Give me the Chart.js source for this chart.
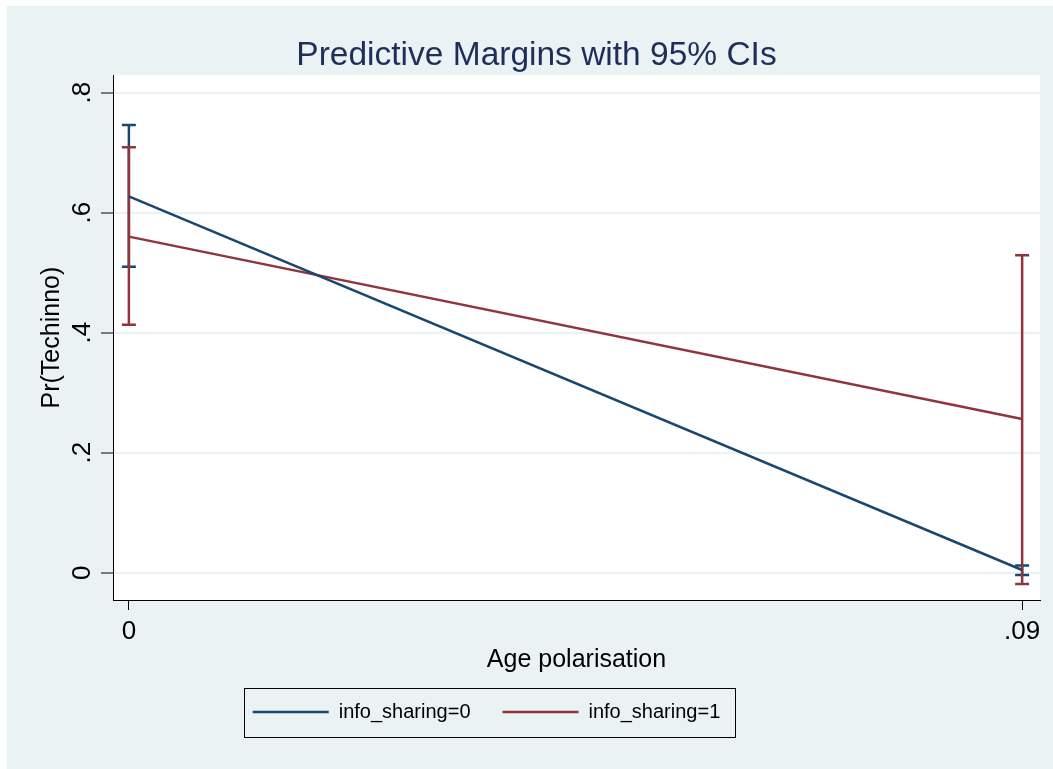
<!DOCTYPE html>
<html>
<head>
<meta charset="utf-8">
<title>Predictive Margins with 95% CIs</title>
<script src="https://cdn.jsdelivr.net/npm/chart.js@4.4.1/dist/chart.umd.min.js"></script>
<style>
  html, body { margin: 0; padding: 0; background: #ffffff; }
  #wrap { width: 1053px; height: 769px; position: relative; }
</style>
</head>
<body>
<div id="wrap"><canvas id="marginsChart"></canvas></div>
<script>
const xValues = [0, 0.09];
const seriesLabels = ["info_sharing=0", "info_sharing=1"];
const margins0 = [0.627, 0.0045];
const ciLow0 = [0.510, -0.004];
const ciHigh0 = [0.746, 0.012];
const margins1 = [0.560, 0.256];
const ciLow1 = [0.413, -0.019];
const ciHigh1 = [0.709, 0.529];
const xTicks = [0, 0.09];
const xTickLabels = ["0", ".09"];
const yTicks = [0, 0.2, 0.4, 0.6, 0.8];
const yTickLabels = ["0", ".2", ".4", ".6", ".8"];

const NAVY = "#1a476f";
const MAROON = "#90353b";
const BG = "#eaf2f3";
const FONT = "'Liberation Sans', Arial, sans-serif";

Chart.defaults.font.family = FONT;
Chart.defaults.color = "#000";

function toPoints(ys) {
    return xValues.map((x, i) => ({ x: x, y: ys[i] }));
}

// Stata-like backgrounds: light graph region, white plot region
const backgroundPlugin = {
    id: "stataBackground",
    beforeDraw(chart) {
        const { ctx, width, height, chartArea } = chart;
        ctx.save();
        ctx.fillStyle = "#ffffff";
        ctx.fillRect(0, 0, width, height);
        ctx.fillStyle = BG;
        ctx.fillRect(7, 6, width - 7, height - 6);
        ctx.fillStyle = "#ffffff";
        ctx.fillRect(chartArea.left, chartArea.top, chartArea.right - chartArea.left, chartArea.bottom - chartArea.top);
        ctx.restore();
    }
};

// Nudge title and legend to where Stata puts them
const placePlugin = {
    id: "place",
    afterLayout(chart) {
        const tb = chart.titleBlock;
        if (tb) {
            tb.left += 13;
            tb.right += 13;
            tb.top += 3;
            tb.bottom += 3;
        }
        const lg = chart.legend;
        if (lg) {
            const newTop = 670;
            lg.left -= 37;
            lg.right -= 37;
            lg.bottom = newTop + lg.height;
            lg.top = newTop;
        }
    }
};

// Frame around the legend
const legendFramePlugin = {
    id: "legendFrame",
    afterDraw(chart) {
        const boxes = chart.legend && chart.legend.legendHitBoxes;
        if (!boxes || !boxes.length) return;
        const left = Math.min(...boxes.map(b => b.left)) - 9;
        const right = Math.max(...boxes.map(b => b.left + b.width)) + 14;
        const cy = boxes[0].top + boxes[0].height / 2;
        const ctx = chart.ctx;
        ctx.save();
        ctx.strokeStyle = "#000";
        ctx.lineWidth = 1;
        ctx.strokeRect(Math.round(left) + 0.5, Math.round(cy - 24.5) + 0.5, Math.round(right - left), 49);
        ctx.restore();
    }
};

// Capped confidence intervals (rcap)
const ciPlugin = {
    id: "ciCaps",
    beforeDatasetsDraw(chart) {
        const { ctx, scales: { x, y } } = chart;
        const capHalf = 7;
        ctx.save();
        [0, 1].forEach(di => {
            const ds = chart.data.datasets[di];
            ctx.strokeStyle = ds.borderColor;
            ctx.lineWidth = 2.5;
            xValues.forEach((xv, i) => {
                const px = x.getPixelForValue(xv);
                const lo = y.getPixelForValue(ds.ciLow[i]);
                const hi = y.getPixelForValue(ds.ciHigh[i]);
                ctx.beginPath();
                ctx.moveTo(px, lo);
                ctx.lineTo(px, hi);
                ctx.moveTo(px - capHalf, lo);
                ctx.lineTo(px + capHalf, lo);
                ctx.moveTo(px - capHalf, hi);
                ctx.lineTo(px + capHalf, hi);
                ctx.stroke();
            });
        });
        ctx.restore();
    }
};

const ctx = document.getElementById("marginsChart").getContext("2d");
new Chart(ctx, {
    type: "line",
    data: {
        datasets: [
            {
                label: seriesLabels[0],
                data: toPoints(margins0),
                ciLow: ciLow0,
                ciHigh: ciHigh0,
                borderColor: NAVY,
                backgroundColor: NAVY,
                borderWidth: 2.5,
                pointRadius: 0,
                pointStyle: "line",
                fill: false,
                tension: 0
            },
            {
                label: seriesLabels[1],
                data: toPoints(margins1),
                ciLow: ciLow1,
                ciHigh: ciHigh1,
                borderColor: MAROON,
                backgroundColor: MAROON,
                borderWidth: 2.5,
                pointRadius: 0,
                pointStyle: "line",
                fill: false,
                tension: 0
            }
        ]
    },
    options: {
        responsive: true,
        maintainAspectRatio: false,
        animation: false,
        layout: { padding: { left: 7, top: 6, right: 13, bottom: 27 } },
        plugins: {
            title: {
                display: true,
                text: "Predictive Margins with 95% CIs",
                color: "#1f2d5a",
                font: { size: 33.5, weight: "normal", family: FONT },
                padding: { top: 27, bottom: 2 }
            },
            legend: {
                position: "bottom",
                labels: {
                    usePointStyle: true,
                    pointStyle: "line",
                    pointStyleWidth: 76,
                    padding: 32,
                    color: "#000",
                    font: { size: 20, family: FONT }
                }
            },
            tooltip: { enabled: false }
        },
        scales: {
            x: {
                type: "linear",
                min: -0.0016,
                max: 0.0918,
                afterBuildTicks: s => { s.ticks = xTicks.map(v => ({ value: v })); },
                afterFit: s => { s.height = 80; },
                ticks: {
                    callback: (v, i) => xTickLabels[i],
                    font: { size: 26 },
                    color: "#000",
                    padding: 6,
                    maxRotation: 0,
                    autoSkip: false
                },
                grid: { drawOnChartArea: false, tickLength: 10, tickColor: "#000", tickWidth: 1 },
                border: { color: "#000", width: 1 },
                title: {
                    display: true,
                    text: "Age polarisation",
                    color: "#000",
                    font: { size: 25 },
                    padding: { top: 0, bottom: 5 }
                }
            },
            y: {
                type: "linear",
                min: -0.0455,
                max: 0.829,
                afterBuildTicks: s => { s.ticks = yTicks.map(v => ({ value: v })); },
                afterFit: s => { s.width = 106; },
                ticks: {
                    callback: (v, i) => yTickLabels[i],
                    font: { size: 26 },
                    color: "#000",
                    minRotation: 90,
                    maxRotation: 90,
                    crossAlign: "center",
                    padding: 7,
                    autoSkip: false
                },
                grid: { color: BG, lineWidth: 2, tickLength: 12, tickColor: "#000", tickWidth: 1 },
                border: { color: "#000", width: 1 },
                title: {
                    display: true,
                    text: "Pr(Techinno)",
                    color: "#000",
                    font: { size: 25 },
                    padding: { top: 30, bottom: 0 }
                }
            }
        }
    },
    plugins: [backgroundPlugin, placePlugin, legendFramePlugin, ciPlugin]
});
</script>
</body>
</html>
